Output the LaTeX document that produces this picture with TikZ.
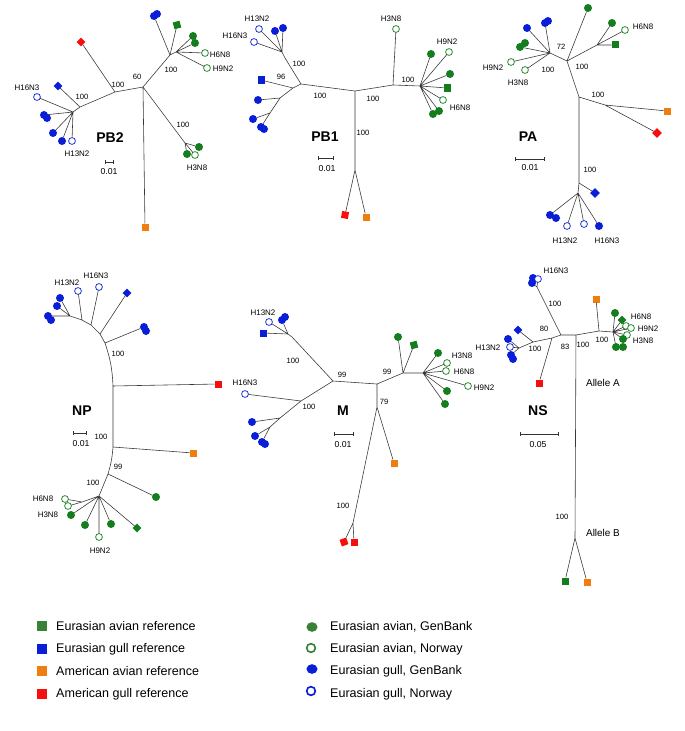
\documentclass[tikz,border=0pt]{standalone}
\usepackage{fontspec}
\setmainfont{Liberation Sans}
\usetikzlibrary{arrows.meta}
\definecolor{avgreen}{RGB}{20,125,30}
\definecolor{lggreen}{RGB}{55,130,55}
\definecolor{gullblue}{RGB}{10,30,215}
\definecolor{amorange}{RGB}{240,125,15}
\definecolor{amred}{RGB}{245,15,15}
\tikzset{
  br/.style={draw=black!78, line width=0.5pt},
  mk/.style={inner sep=0pt, outer sep=0pt},
  dotmk/.style={mk, circle, fill=#1, minimum size=2.4mm},
  ringmk/.style={mk, circle, draw=#1, fill=white, line width=0.6pt, minimum size=2.05mm},
  boxmk/.style={mk, rectangle, fill=#1, minimum size=2.1mm},
  gemmk/.style={boxmk=#1, rotate=45, minimum size=1.85mm},
  legdot/.style={mk, circle, fill=#1, minimum size=2.9mm, xscale=1.15},
  legring/.style={mk, circle, draw=#1, line width=1.4pt, minimum size=2.6mm},
  lab/.style={font=\fontsize{6.8}{7}\selectfont, inner sep=0pt},
  num/.style={font=\fontsize{6.5}{7}\selectfont, inner sep=0pt},
  gene/.style={font=\fontsize{12}{13}\selectfont\bfseries, inner sep=0pt},
  sclab/.style={font=\fontsize{7.4}{8}\selectfont, inner sep=0pt},
  allele/.style={font=\fontsize{8.5}{9}\selectfont, inner sep=0pt},
  sbar/.style={draw=black!80, line width=0.6pt, {Bar[width=3pt]}-{Bar[width=3pt]}},
  legtxt/.style={font=\fontsize{10.7}{12}\selectfont, inner sep=0pt, anchor=west},
}
\begin{document}
\begin{tikzpicture}[x=0.03cm, y=-0.03cm]
\useasboundingbox (0,0) rectangle (685,731);

% ---- PB2
\coordinate (ptC) at (143,87);
\coordinate (ptA) at (115,92);
\coordinate (ptL) at (80,107);
\coordinate (ptLs) at (73,112);
\coordinate (ptU) at (170,55);
\coordinate (ptUs) at (176,52);
\coordinate (ptD) at (185,143);
\node[gemmk=amred] (pt1) at (81,42) {};
\node[gemmk=gullblue] (pt2) at (58,86) {};
\node[ringmk=gullblue] (pt3) at (37,97) {};
\node[dotmk=gullblue] (pt4) at (44,115) {};
\node[dotmk=gullblue] (pt4b) at (47,118) {};
\node[dotmk=gullblue] (pt5) at (53,133) {};
\node[dotmk=gullblue] (pt6) at (62,141) {};
\node[ringmk=gullblue] (pt7) at (72,141) {};
\node[dotmk=gullblue] (pt8) at (154,16) {};
\node[dotmk=gullblue] (pt8b) at (157,14) {};
\node[boxmk=avgreen, rotate=15] (pt9) at (177,25) {};
\node[dotmk=avgreen] (pt10) at (193,36) {};
\node[dotmk=avgreen] (pt10b) at (195,43) {};
\node[ringmk=avgreen] (pt11) at (205,53) {};
\node[ringmk=avgreen] (pt12) at (207,68) {};
\node[dotmk=avgreen] (pt13) at (199,147) {};
\node[dotmk=avgreen] (pt14) at (187,154) {};
\node[ringmk=avgreen] (pt15) at (195,155) {};
\node[boxmk=amorange] (pt16) at (145,227) {};
\draw[br] (ptC) -- (ptA) (ptA) -- (pt1) (ptA) -- (ptL) (ptL) -- (pt2) (ptL) -- (ptLs)
  (ptLs) -- (pt3) (ptLs) -- (pt4) (ptLs) -- (pt5) (ptLs) -- (pt6) (ptLs) -- (pt7)
  (ptC) -- (ptU) (ptU) -- (pt8) (ptU) -- (pt9) (ptU) -- (ptUs) (ptUs) -- (pt10)
  (ptUs) -- (pt10b) (ptUs) -- (pt11) (ptUs) -- (pt12)
  (ptC) -- (ptD) (ptD) -- (pt13) (ptD) -- (pt14) (ptD) -- (pt15) (ptC) -- (pt16);
\node[num] (ptn1) at (137,77) {60};
\node[num] (ptn2) at (118,85) {100};
\node[num] (ptn3) at (82,97) {100};
\node[num] (ptn4) at (171,70) {100};
\node[num] (ptn5) at (183,125) {100};
\node[lab] (ptl1) at (27,88) {H16N3};
\node[lab] (ptl2) at (77,154) {H13N2};
\node[lab] (ptl3) at (220,55) {H6N8};
\node[lab] (ptl4) at (223,69) {H9N2};
\node[lab] (ptl5) at (197,168) {H3N8};
\node[gene] (ptg) at (110,138) {PB2};
\coordinate (pts1) at (105,162);
\coordinate (pts2) at (114,162);
\draw[sbar] (pts1) -- (pts2);
\node[sclab] (ptsl) at (109,172) {0.01};

% ---- PB1
\coordinate (poC) at (355,91);
\coordinate (poL) at (301,84);
\coordinate (poR) at (393,85);
\coordinate (poB) at (355,170);
\coordinate (poU) at (285,58);
\coordinate (poUs) at (282,52);
\coordinate (poW) at (293,88);
\coordinate (poWa) at (280,98);
\coordinate (poWb) at (270,113);
\coordinate (poE) at (420,86);
\node[boxmk=amred, rotate=-10] (po1) at (345,215) {};
\node[boxmk=amorange] (po2) at (366,217) {};
\node[ringmk=gullblue] (po3) at (259,29) {};
\node[ringmk=gullblue] (po4) at (254,42) {};
\node[dotmk=gullblue] (po5) at (275,31) {};
\node[dotmk=gullblue] (po6) at (283,28) {};
\node[boxmk=gullblue] (po7) at (261,80) {};
\node[dotmk=gullblue] (po8) at (258,100) {};
\node[dotmk=gullblue] (po9) at (253,119) {};
\node[dotmk=gullblue] (po10) at (261,127) {};
\node[dotmk=gullblue] (po10b) at (264,129) {};
\node[ringmk=avgreen] (po11) at (396,29) {};
\node[dotmk=avgreen] (po12) at (431,54) {};
\node[ringmk=avgreen] (po13) at (449,52) {};
\node[dotmk=avgreen] (po14) at (450,74) {};
\node[boxmk=avgreen] (po15) at (447,88) {};
\node[ringmk=avgreen] (po16) at (443,100) {};
\node[dotmk=avgreen] (po17) at (433,114) {};
\node[dotmk=avgreen] (po17b) at (439,111) {};
\draw[br] (poC) -- (poL) (poC) -- (poR) (poC) -- (poB) (poB) -- (po1) (poB) -- (po2)
  (poL) -- (poU) (poU) -- (poUs) (poUs) -- (po3) (poUs) -- (po4) (poUs) -- (po5) (poUs) -- (po6)
  (poL) -- (poW) (poW) -- (po7) (poW) -- (poWa) (poWa) -- (po8) (poWa) -- (poWb)
  (poWb) -- (po9) (poWb) -- (po10)
  (poR) -- (po11) (poR) -- (poE) (poE) -- (po12) (poE) -- (po13) (poE) -- (po14)
  (poE) -- (po15) (poE) -- (po16) (poE) -- (po17) (poE) -- (po17b);
\node[num] (pon1) at (320,96) {100};
\node[num] (pon2) at (373,99) {100};
\node[num] (pon3) at (363,133) {100};
\node[num] (pon4) at (299,64) {100};
\node[num] (pon5) at (281,77) {96};
\node[num] (pon6) at (408,80) {100};
\node[lab] (pol1) at (257,19) {H13N2};
\node[lab] (pol2) at (235,36) {H16N3};
\node[lab] (pol3) at (391,19) {H3N8};
\node[lab] (pol4) at (447,42) {H9N2};
\node[lab] (pol5) at (460,108) {H6N8};
\node[gene] (pog) at (325,137) {PB1};
\coordinate (pos1) at (318,158);
\coordinate (pos2) at (334,158);
\draw[sbar] (pos1) -- (pos2);
\node[sclab] (posl) at (327,169) {0.01};

% ---- PA
\coordinate (paT) at (567,61);
\coordinate (paM) at (579,97);
\coordinate (paMs) at (605,105);
\coordinate (paB) at (579,183);
\coordinate (paBs) at (578,193);
\coordinate (paTL) at (550,53);
\coordinate (paTR) at (597,45);
\node[boxmk=amorange] (pa1) at (667,111) {};
\node[gemmk=amred, minimum size=2.1mm] (pa2) at (657,133) {};
\node[gemmk=gullblue, minimum size=2.1mm] (pa3) at (595,193) {};
\node[dotmk=gullblue] (pa4) at (550,215) {};
\node[dotmk=gullblue] (pa4b) at (556,218) {};
\node[ringmk=gullblue] (pa5) at (567,226) {};
\node[ringmk=gullblue] (pa6) at (584,224) {};
\node[dotmk=gullblue] (pa7) at (599,226) {};
\node[dotmk=gullblue] (pa8) at (527,28) {};
\node[dotmk=gullblue] (pa9) at (545,23) {};
\node[dotmk=gullblue] (pa9b) at (548,21) {};
\node[dotmk=avgreen] (pa10) at (520,47) {};
\node[dotmk=avgreen] (pa10b) at (525,43) {};
\node[ringmk=avgreen] (pa11) at (511,62) {};
\node[ringmk=avgreen] (pa12) at (525,70) {};
\node[dotmk=avgreen] (pa13) at (588,8) {};
\node[dotmk=avgreen] (pa14) at (612,23) {};
\node[ringmk=avgreen] (pa15) at (625,30) {};
\node[boxmk=avgreen] (pa16) at (615,45) {};
\draw[br] (paT) -- (paM) (paM) -- (paMs) (paMs) -- (pa1) (paMs) -- (pa2)
  (paM) -- (paB) (paB) -- (pa3) (paB) -- (paBs) (paBs) -- (pa4) (paBs) -- (pa5)
  (paBs) -- (pa6) (paBs) -- (pa7)
  (paT) -- (paTL) (paTL) -- (pa8) (paTL) -- (pa9) (paTL) -- (pa10) (paTL) -- (pa11) (paTL) -- (pa12)
  (paT) -- (pa13) (paT) -- (paTR) (paTR) -- (pa14) (paTR) -- (pa15) (paTR) -- (pa16);
\node[num] (pan1) at (582,67) {100};
\node[num] (pan2) at (598,95) {100};
\node[num] (pan3) at (590,170) {100};
\node[num] (pan4) at (561,47) {72};
\node[num] (pan5) at (548,70) {100};
\node[lab] (pal1) at (493,68) {H9N2};
\node[lab] (pal2) at (518,83) {H3N8};
\node[lab] (pal3) at (643,27) {H6N8};
\node[lab] (pal4) at (565,241) {H13N2};
\node[lab] (pal5) at (607,241) {H16N3};
\node[gene] (pag) at (528,137) {PA};
\coordinate (pas1) at (515,159);
\coordinate (pas2) at (545,159);
\draw[sbar] (pas1) -- (pas2);
\node[sclab] (pasl) at (530,168) {0.01};

% ---- NP
\coordinate (npT) at (105,343);
\coordinate (npR) at (113,386);
\coordinate (npO) at (113,447);
\coordinate (npN) at (108,474);
\coordinate (npG) at (99,496);
\coordinate (npGa) at (82,502);
\coordinate (npT1) at (100,334);
\coordinate (npT2) at (91,325);
\coordinate (npT3) at (82,320);
\coordinate (npT4) at (70,316);
\node[dotmk=gullblue] (np1) at (144,327) {};
\node[dotmk=gullblue] (np1b) at (146,331) {};
\node[gemmk=gullblue] (np2) at (127,293) {};
\node[ringmk=gullblue] (np3) at (99,287) {};
\node[ringmk=gullblue] (np4) at (78,291) {};
\node[dotmk=gullblue] (np5) at (60,298) {};
\node[dotmk=gullblue] (np6) at (57,306) {};
\node[dotmk=gullblue] (np7) at (48,316) {};
\node[dotmk=gullblue] (np7b) at (51,320) {};
\node[boxmk=amred] (np8) at (218,384) {};
\node[boxmk=amorange] (np9) at (193,453) {};
\node[dotmk=avgreen] (np10) at (156,497) {};
\node[ringmk=avgreen] (np11) at (65,499) {};
\node[ringmk=avgreen] (np12) at (68,506) {};
\node[dotmk=avgreen] (np13) at (71,515) {};
\node[dotmk=avgreen] (np14) at (85,525) {};
\node[ringmk=avgreen] (np15) at (99,537) {};
\node[dotmk=avgreen] (np16) at (111,524) {};
\node[gemmk=avgreen] (np17) at (137,528) {};
\draw[br] (npT) -- (npT1) (npT) -- (np1) (npT1) -- (np2) (npT1) -- (npT2) (npT2) -- (np3)
  (npT2) -- (npT3) (npT3) -- (np4) (npT3) -- (npT4) (npT4) -- (np5) (npT4) -- (np6) (npT4) -- (np7)
  (npT) to[bend left=8] (npR) (npR) -- (np8) (npR) -- (npO) (npO) -- (np9)
  (npO) to[bend left=6] (npN) (npN) -- (np10) (npN) -- (npG) (npG) -- (npGa)
  (npGa) -- (np11) (npGa) -- (np12) (npG) -- (np13) (npG) -- (np14) (npG) -- (np15)
  (npG) -- (np16) (npG) -- (np17);
\node[num] (npn1) at (118,354) {100};
\node[num] (npn2) at (101,437) {100};
\node[num] (npn3) at (118,467) {99};
\node[num] (npn4) at (93,483) {100};
\node[lab] (npl1) at (67,283) {H13N2};
\node[lab] (npl2) at (96,276) {H16N3};
\node[lab] (npl3) at (43,499) {H6N8};
\node[lab] (npl4) at (48,515) {H3N8};
\node[lab] (npl5) at (100,551) {H9N2};
\node[gene] (npg) at (82,411) {NP};
\coordinate (nps1) at (73,433);
\coordinate (nps2) at (87,433);
\draw[sbar] (nps1) -- (nps2);
\node[sclab] (npsl) at (81,444) {0.01};

% ---- M
\coordinate (mA) at (333,381);
\coordinate (mB) at (377,384);
\coordinate (mC) at (403,373);
\coordinate (mD) at (423,373);
\coordinate (mE) at (377,407);
\coordinate (mF) at (353,523);
\coordinate (mU) at (292,337);
\coordinate (mUs) at (288,334);
\coordinate (mW) at (301,401);
\coordinate (mWa) at (280,418);
\coordinate (mWb) at (270,427);
\node[dotmk=avgreen] (m1) at (398,337) {};
\node[boxmk=avgreen, rotate=15] (m2) at (414,345) {};
\node[dotmk=avgreen] (m3) at (438,353) {};
\node[ringmk=avgreen] (m4) at (447,363) {};
\node[ringmk=avgreen] (m5) at (446,371) {};
\node[ringmk=avgreen] (m6) at (468,386) {};
\node[dotmk=avgreen] (m7) at (447,391) {};
\node[dotmk=avgreen] (m8) at (445,404) {};
\node[boxmk=amorange] (m9) at (394,463) {};
\node[boxmk=amred, rotate=20] (m10) at (344,542) {};
\node[boxmk=amred] (m11) at (354,542) {};
\node[ringmk=gullblue] (m12) at (269,322) {};
\node[dotmk=gullblue] (m13) at (282,320) {};
\node[dotmk=gullblue] (m13b) at (285,317) {};
\node[boxmk=gullblue] (m14) at (263,333) {};
\node[ringmk=gullblue] (m15) at (245,394) {};
\node[dotmk=gullblue] (m16) at (252,422) {};
\node[dotmk=gullblue] (m17) at (255,436) {};
\node[dotmk=gullblue] (m18) at (262,442) {};
\node[dotmk=gullblue] (m18b) at (265,444) {};
\draw[br] (mA) -- (mB) (mB) -- (mC) (mC) -- (m1) (mC) -- (m2) (mC) -- (mD)
  (mD) -- (m3) (mD) -- (m4) (mD) -- (m5) (mD) -- (m6) (mD) -- (m7) (mD) -- (m8)
  (mB) -- (mE) (mE) -- (m9) (mE) -- (mF) (mF) -- (m10) (mF) -- (m11)
  (mA) -- (mU) (mU) -- (mUs) (mUs) -- (m12) (mUs) -- (m13) (mUs) -- (m14)
  (mA) -- (mW) (mW) -- (m15) (mW) -- (mWa) (mWa) -- (m16) (mWa) -- (mWb)
  (mWb) -- (m17) (mWb) -- (m18);
\node[num] (mn1) at (342,375) {99};
\node[num] (mn2) at (387,372) {99};
\node[num] (mn3) at (384,402) {79};
\node[num] (mn4) at (293,361) {100};
\node[num] (mn5) at (309,407) {100};
\node[num] (mn6) at (343,506) {100};
\node[lab] (ml1) at (263,313) {H13N2};
\node[lab] (ml2) at (245,383) {H16N3};
\node[lab] (ml3) at (462,356) {H3N8};
\node[lab] (ml4) at (464,372) {H6N8};
\node[lab] (ml5) at (484,388) {H9N2};
\node[gene] (mg) at (343,411) {M};
\coordinate (ms1) at (334,434);
\coordinate (ms2) at (354,434);
\draw[sbar] (ms1) -- (ms2);
\node[sclab] (msl) at (343,445) {0.01};

% ---- NS
\coordinate (nsA) at (561,335);
\coordinate (nsB) at (576,335);
\coordinate (nsU) at (537,287);
\coordinate (nsP) at (552,338);
\coordinate (nsQ) at (533,342);
\coordinate (nsQs) at (519,348);
\coordinate (nsR) at (599,331);
\coordinate (nsRs) at (613,332);
\coordinate (nsD) at (575,538);
\node[dotmk=gullblue] (ns1) at (532,283) {};
\node[dotmk=gullblue] (ns1b) at (533,278) {};
\node[ringmk=gullblue] (ns2) at (538,279) {};
\node[boxmk=amred] (ns3) at (539,383) {};
\node[gemmk=gullblue] (ns4) at (518,330) {};
\node[dotmk=gullblue] (ns5) at (508,339) {};
\node[ringmk=gullblue] (ns6) at (510,347) {};
\node[dotmk=gullblue] (ns7) at (511,355) {};
\node[dotmk=gullblue] (ns7b) at (513,359) {};
\node[boxmk=amorange] (ns8) at (596,299) {};
\node[dotmk=avgreen] (ns9) at (615,313) {};
\node[gemmk=avgreen] (ns10) at (622,320) {};
\node[ringmk=avgreen] (ns11) at (626,326) {};
\node[ringmk=avgreen] (ns12) at (631,328) {};
\node[ringmk=avgreen] (ns13) at (627,335) {};
\node[dotmk=avgreen] (ns14) at (623,339) {};
\node[dotmk=avgreen] (ns15) at (616,347) {};
\node[dotmk=avgreen] (ns15b) at (623,347) {};
\node[boxmk=avgreen] (ns16) at (565,581) {};
\node[boxmk=amorange] (ns17) at (587,582) {};
\draw[br] (nsA) -- (nsB) (nsA) -- (nsU) (nsU) -- (ns1) (nsU) -- (ns2)
  (nsA) -- (nsP) (nsP) -- (ns3) (nsP) -- (nsQ) (nsQ) -- (ns4) (nsQ) -- (nsQs)
  (nsQs) -- (ns5) (nsQs) -- (ns6) (nsQs) -- (ns7)
  (nsB) -- (nsR) (nsR) -- (ns8) (nsR) -- (nsRs) (nsRs) -- (ns9) (nsRs) -- (ns10)
  (nsRs) -- (ns11) (nsRs) -- (ns12) (nsRs) -- (ns13) (nsRs) -- (ns14) (nsRs) -- (ns15)
  (nsB) -- (nsD) (nsD) -- (ns16) (nsD) -- (ns17);
\node[num] (nsn1) at (555,304) {100};
\node[num] (nsn2) at (544,329) {80};
\node[num] (nsn3) at (565,347) {83};
\node[num] (nsn4) at (583,345) {100};
\node[num] (nsn5) at (535,349) {100};
\node[num] (nsn6) at (602,340) {100};
\node[num] (nsn7) at (562,517) {100};
\node[lab] (nsl1) at (556,271) {H16N3};
\node[lab] (nsl2) at (488,348) {H13N2};
\node[lab] (nsl3) at (641,317) {H6N8};
\node[lab] (nsl4) at (648,329) {H9N2};
\node[lab] (nsl5) at (643,341) {H3N8};
\node[allele] (nsa1) at (603,383) {Allele A};
\node[allele] (nsa2) at (603,533) {Allele B};
\node[gene] (nsg) at (538,411) {NS};
\coordinate (nss1) at (520,434);
\coordinate (nss2) at (559,434);
\draw[sbar] (nss1) -- (nss2);
\node[sclab] (nssl) at (538,445) {0.05};

% ---- legend
\node[boxmk=lggreen, minimum size=3mm] (lg1) at (42,626) {};
\node[boxmk=gullblue, minimum size=3mm] (lg2) at (42,649) {};
\node[boxmk=amorange, minimum size=3mm] (lg3) at (42,671) {};
\node[boxmk=amred, minimum size=3mm] (lg4) at (42,694) {};
\node[legtxt] (lt1) at (56,626) {Eurasian avian reference};
\node[legtxt] (lt2) at (56,649) {Eurasian gull reference};
\node[legtxt] (lt3) at (56,671) {American avian reference};
\node[legtxt] (lt4) at (56,694) {American gull reference};
\node[legdot=lggreen] (lc1) at (312,627) {};
\node[legring=lggreen] (lc2) at (311,648) {};
\node[legdot=gullblue] (lc3) at (312,669) {};
\node[legring=gullblue] (lc4) at (311,691) {};
\node[legtxt] (lt5) at (330,627) {Eurasian avian, GenBank};
\node[legtxt] (lt6) at (330,649) {Eurasian avian, Norway};
\node[legtxt] (lt7) at (330,671) {Eurasian gull, GenBank};
\node[legtxt] (lt8) at (330,694) {Eurasian gull, Norway};
\end{tikzpicture}
\end{document}
